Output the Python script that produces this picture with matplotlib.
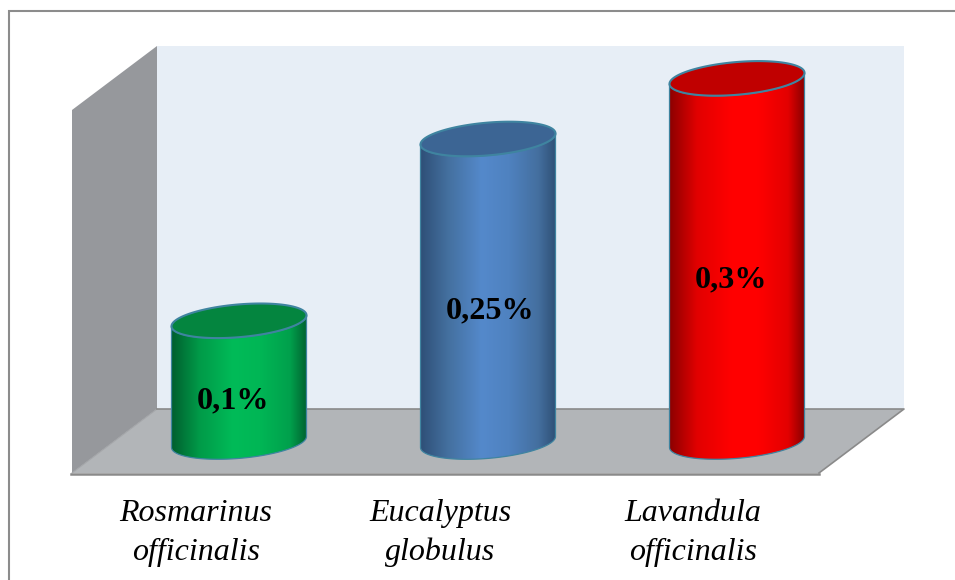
import numpy as np
import matplotlib
matplotlib.use("Agg")
import matplotlib.pyplot as plt
from matplotlib.colors import LinearSegmentedColormap
from matplotlib.patches import Polygon, PathPatch
from matplotlib.path import Path

# Chart content
species = ["Rosmarinus\nofficinalis", "Eucalyptus\nglobulus", "Lavandula\nofficinalis"]
yield_pct = [0.1, 0.25, 0.3]
value_labels = ["0,1%", "0,25%", "0,3%"]

# Cylinder colours: side shading stops and the lid
side_stops = [
    ["#00602f", "#009a48", "#00bb58", "#00b655", "#00a04c", "#005f2e"],
    ["#2f5078", "#44709f", "#5489cb", "#4f82c0", "#446f9f", "#2f5076"],
    ["#8e0000", "#e20000", "#ff0000", "#ff0000", "#e30000", "#820000"],
]
lid_colors = ["#04853f", "#3c6594", "#c00000"]
shade_pos = [0.0, 0.2, 0.45, 0.65, 0.87, 1.0]

# Layout in figure pixels, y growing downwards
W, H = 955, 580
BAR_LEFT = [171.5, 420.5, 669.5]
BAR_W = 135
BASE_Y = 442
PX_PER_UNIT = 1212
SKEW = 5.5
MINOR = 16.4
LABEL_X = [196, 440, 693]
OUTLINE = "#3f84a0"

fig = plt.figure(figsize=(W / 100, H / 100), dpi=100)
ax = fig.add_axes([0, 0, 1, 1])
ax.set_xlim(0, W)
ax.set_ylim(H, 0)
ax.axis("off")

# Outer chart frame, running off to the right and the bottom
ax.plot([8.5, 8.5, W], [H, 11, 11], color="#8c8c8c", lw=1.5, solid_joinstyle="miter", zorder=1)

# Walls and floor of the 3D box
ax.add_patch(Polygon([(157, 46), (904, 46), (904, 409), (157, 409)], fc="#e7eef6", ec="none", zorder=2))
ax.add_patch(Polygon([(72, 110), (157, 46), (157, 409), (72, 473)], fc="#96989c", ec="none", zorder=2))
ax.add_patch(Polygon([(157, 409), (904, 409), (819, 473), (72, 473)], fc="#b2b5b8", ec="none", zorder=3))
ax.plot([72, 157], [473, 409], color="#a3a5a8", lw=0.8, zorder=4)
ax.plot([157, 904, 819], [409, 409, 473], color="#8a8a8a", lw=1.2, zorder=4)
ax.plot([71, 819], [473.5, 473.5], color="#8a8a8a", lw=1.8, zorder=4)


def ellipse_points(cx, cy, t):
    a = BAR_W / 2
    return cx + a * np.cos(t), cy - SKEW * np.cos(t) + MINOR * np.sin(t)


for i, value in enumerate(yield_pct):
    left = BAR_LEFT[i]
    cx = left + BAR_W / 2
    top_y = BASE_Y - value * PX_PER_UNIT

    # Side of the cylinder: straight edges closed by the lower half of the base ellipse
    t = np.linspace(np.pi, 0, 80)
    bx, by = ellipse_points(cx, BASE_Y, t)
    tx, ty = ellipse_points(cx, top_y, t[::-1])
    verts = np.column_stack([np.r_[bx, tx], np.r_[by, ty]])
    verts = np.vstack([verts, verts[0]])
    body = Path(verts, closed=True)

    cmap = LinearSegmentedColormap.from_list(f"side{i}", list(zip(shade_pos, side_stops[i])))
    img = ax.imshow(
        np.linspace(0, 1, 256)[None, :], cmap=cmap, aspect="auto",
        extent=(left, left + BAR_W, BASE_Y + 20, top_y - 20), zorder=5,
    )
    img.set_clip_path(PathPatch(body, transform=ax.transData))
    ax.add_patch(PathPatch(body, fc="none", ec=OUTLINE, lw=0.9, zorder=6))

    # Lid
    t = np.linspace(0, 2 * np.pi, 160)
    lx, ly = ellipse_points(cx, top_y, t)
    ax.add_patch(Polygon(np.column_stack([lx, ly]), closed=True, fc=lid_colors[i],
                         ec=OUTLINE, lw=1.5, zorder=7))

    # Value printed on the side
    ax.text(left + 25, (BASE_Y + top_y) / 2 + 20, value_labels[i], ha="left", va="center",
            family="Liberation Serif", weight="bold", fontsize=23.2, color="black", zorder=8)

    # Species name below the floor
    ax.text(LABEL_X[i], 533, species[i], ha="center", va="center", linespacing=1.43,
            family="Liberation Serif", style="italic", fontsize=23, color="black", zorder=8)

ax.set_xlim(0, W)
ax.set_ylim(H, 0)
fig.savefig("out.png", dpi=100)
